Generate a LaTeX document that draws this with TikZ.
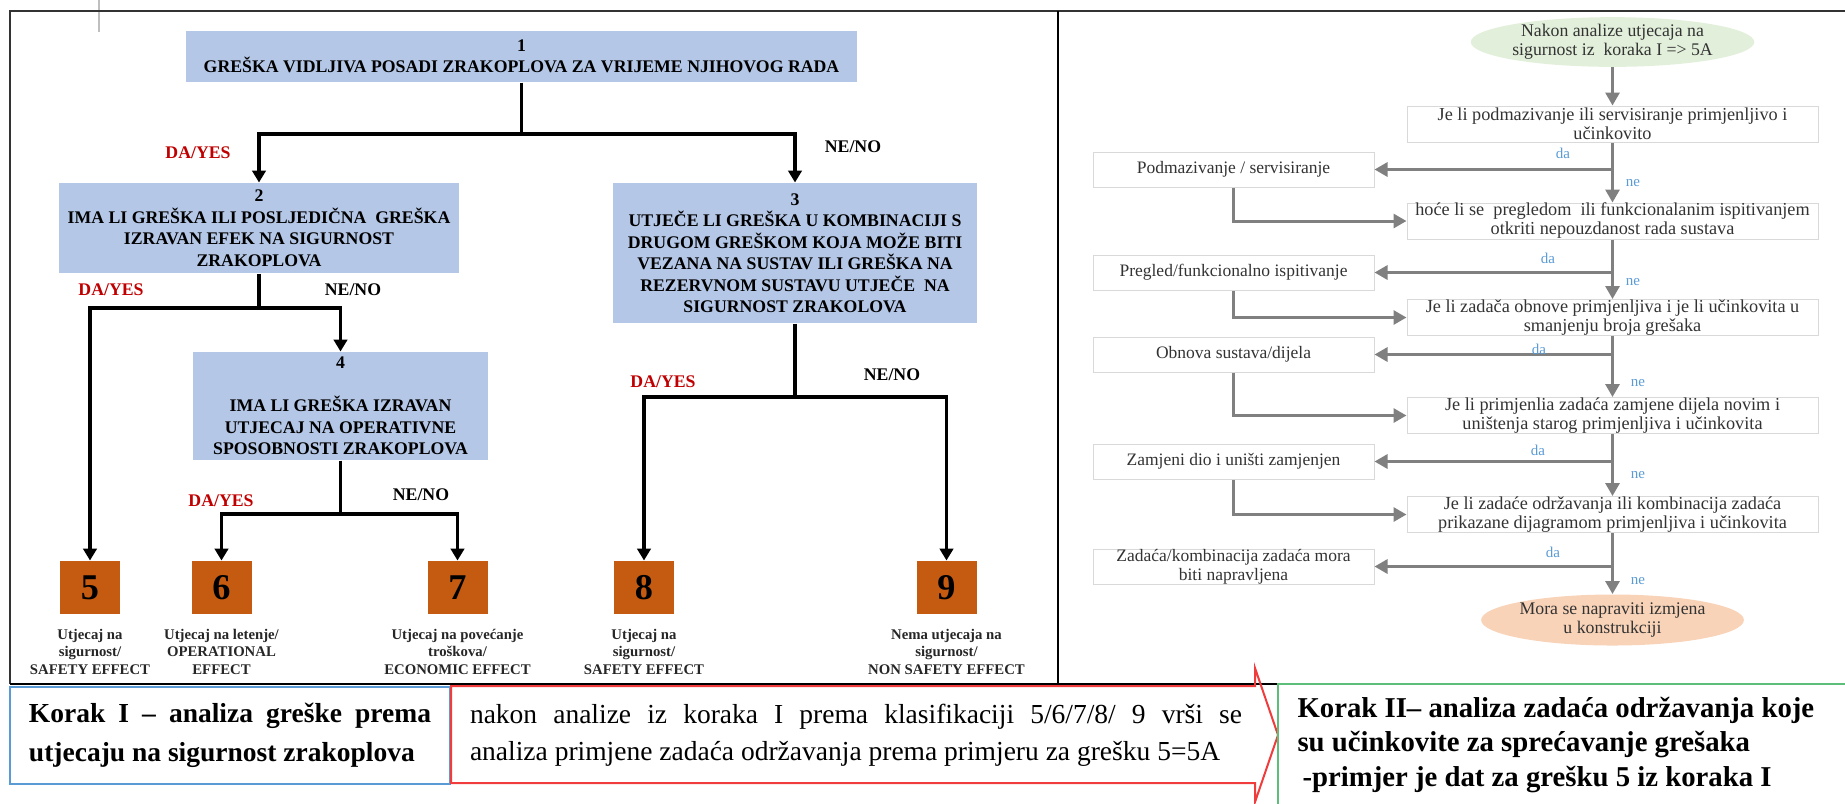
\documentclass[tikz,border=0pt]{standalone}
\usepackage{fontspec}
\setmainfont{Liberation Serif}
\usetikzlibrary{arrows.meta,positioning,shapes.geometric}

\definecolor{boxblue}{HTML}{B4C7E7}
\definecolor{effectorange}{HTML}{C55A11}
\definecolor{yesred}{HTML}{C00000}
\definecolor{flowgray}{HTML}{808080}
\definecolor{boxgray}{HTML}{D9D9D9}
\definecolor{textgray}{HTML}{333333}
\definecolor{answerblue}{HTML}{5B9BD5}
\definecolor{startgreen}{HTML}{E2EFDA}
\definecolor{endpeach}{HTML}{F8D3B8}
\definecolor{stepblue}{HTML}{5B9BD5}
\definecolor{stepred}{HTML}{F03C3C}
\definecolor{stepgreen}{HTML}{5DBE7A}

\begin{document}
\begin{tikzpicture}[x=0.4pt,y=-0.4pt]
  \tikzstyle{every node}=[inner sep=0pt]
  \tikzstyle{fault}=[fill=boxblue,align=center,font=\fontsize{7.1}{8.6}\selectfont\bfseries]
  \tikzstyle{effect}=[fill=effectorange,minimum width=24pt,minimum height=21.2pt,font=\fontsize{14.5}{16}\selectfont\bfseries]
  \tikzstyle{effect label}=[align=center,font=\fontsize{5.9}{7}\selectfont\bfseries,text=black!85]
  \tikzstyle{yes}=[text=yesred,font=\fontsize{7.1}{8}\selectfont\bfseries]
  \tikzstyle{no}=[font=\fontsize{7.1}{8}\selectfont\bfseries]
  \tikzstyle{tree}=[line width=1.4pt,-{Triangle[length=4.8pt,width=5.4pt]}]
  \tikzstyle{tree line}=[line width=1.4pt]
  \tikzstyle{task}=[draw=boxgray,fill=white,align=center,text=textgray,font=\fontsize{7}{7.5}\selectfont]
  \tikzstyle{question}=[task,minimum width=164.4pt,minimum height=14.4pt,font=\fontsize{7.3}{7.6}\selectfont]
  \tikzstyle{action}=[task,minimum width=112.4pt,minimum height=14pt]
  \tikzstyle{flow}=[draw=flowgray,line width=1.2pt,-{Triangle[length=5.2pt,width=5.6pt]}]
  \tikzstyle{answer}=[text=answerblue,font=\fontsize{6}{7}\selectfont]

 \useasboundingbox (0,0) rectangle (1845,803);
 \draw[black!25,line width=0.6pt] (99,0) -- (99,32);
 \draw[black!80,line width=0.8pt] (10,684) -- (10,11) -- (1845,11);
 \draw[line width=0.8pt] (1058,11) -- (1058,684);
 \draw[line width=0.8pt] (10,684) -- (1278,684);

 \node[fault,minimum width=268.4pt,minimum height=20.4pt] (1) at (521.5,56.5) {1\\GREŠKA VIDLJIVA POSADI ZRAKOPLOVA ZA VRIJEME NJIHOVOG RADA};
 \node[fault,minimum width=160pt,minimum height=36pt] (2) at (259,228) {2\\IMA LI GREŠKA ILI POSLJEDIČNA\ \ GREŠKA\\IZRAVAN EFEK NA SIGURNOST\\ZRAKOPLOVA};
 \node[fault,minimum width=145.6pt,minimum height=56pt] (3) at (795,253) {3\\UTJEČE LI GREŠKA U KOMBINACIJI S\\DRUGOM GREŠKOM KOJA MOŽE BITI\\VEZANA NA SUSTAV ILI GREŠKA NA\\REZERVNOM SUSTAVU UTJEČE\ \ NA\\SIGURNOST ZRAKOLOVA};
 \node[fault,minimum width=118pt,minimum height=43.2pt] (4) at (340.5,406) {4\\[8.6pt]IMA LI GREŠKA IZRAVAN\\UTJECAJ NA OPERATIVNE\\SPOSOBNOSTI ZRAKOPLOVA};
 \node[effect] (5) at (90,587.5) {5};
 \node[effect] (6) at (221.5,587.5) {6};
 \node[effect] (7) at (457.5,587.5) {7};
 \node[effect] (8) at (644,587.5) {8};
 \node[effect] (9) at (946.5,587.5) {9};
 \node[effect label,below=5.6pt of 5] (5l) {Utjecaj na\\sigurnost/\\SAFETY EFFECT};
 \node[effect label,below=5.6pt of 6] (6l) {Utjecaj na letenje/\\OPERATIONAL\\EFFECT};
 \node[effect label,below=5.6pt of 7] (7l) {Utjecaj na povećanje\\troškova/\\ECONOMIC EFFECT};
 \node[effect label,below=5.6pt of 8] (8l) {Utjecaj na\\sigurnost/\\SAFETY EFFECT};
 \node[effect label,below=5.6pt of 9] (9l) {Nema utjecaja na\\sigurnost/\\NON SAFETY EFFECT};

 \coordinate (j1) at (521.5,134);
 \coordinate (j2) at (259,308);
 \coordinate (j3) at (340.5,514);
 \coordinate (j4) at (795,397);
 \draw[tree line] (1) -- (j1);
 \draw[tree] (j1) -| (2);
 \draw[tree] (j1) -| (3);
 \draw[tree line] (2) -- (j2);
 \draw[tree] (j2) -| (5);
 \draw[tree] (j2) -| (4);
 \draw[tree line] (4) -- (j3);
 \draw[tree] (j3) -| (6);
 \draw[tree] (j3) -| (7);
 \draw[tree line] (3) -- (j4);
 \draw[tree] (j4) -| (8);
 \draw[tree] (j4) -| (9);

 \node[yes] (y1) at (198,153) {DA/YES};
 \node[no] (n1) at (853,147) {NE/NO};
 \node[yes] (y2) at (111,290) {DA/YES};
 \node[no] (n2) at (353,290) {NE/NO};
 \node[yes] (y3) at (221,501) {DA/YES};
 \node[no] (n3) at (421,495) {NE/NO};
 \node[yes] (y4) at (663,382) {DA/YES};
 \node[no] (n4) at (892,375) {NE/NO};

 \node[ellipse,fill=startgreen,align=center,text=textgray,font=\fontsize{7.1}{7.6}\selectfont,minimum width=112.4pt,minimum height=18pt] (s) at (1612.5,42) {Nakon analize utjecaja na\\sigurnost iz\ \ koraka I => 5A};
 \node[question] (q1) at (1612.5,124) {Je li podmazivanje ili servisiranje primjenljivo i\\učinkovito};
 \node[question] (q2) at (1612.5,221) {hoće li se\ \ pregledom\ \ ili funkcionalanim ispitivanjem\\otkriti nepouzdanost rada sustava};
 \node[question] (q3) at (1612.5,317.5) {Je li zadača obnove primjenljiva i je li učinkovita u\\smanjenju broja grešaka};
 \node[question] (q4) at (1612.5,415.5) {Je li primjenlia zadaća zamjene dijela novim i\\uništenja starog primjenljiva i učinkovita};
 \node[question] (q5) at (1612.5,514.5) {Je li zadaće održavanja ili kombinacija zadaća\\prikazane dijagramom primjenljiva i učinkovita};
 \node[action] (a1) at (1233.5,169.5) {Podmazivanje / servisiranje};
 \node[action] (a2) at (1233.5,272.5) {Pregled/funkcionalno ispitivanje};
 \node[action] (a3) at (1233.5,354.5) {Obnova sustava/dijela};
 \node[action] (a4) at (1233.5,461.5) {Zamjeni dio i uništi zamjenjen};
 \node[action] (a5) at (1233.5,566.5) {Zadaća/kombinacija zadaća mora\\biti napravljena};
 \node[ellipse,fill=endpeach,align=center,text=textgray,font=\fontsize{7.1}{7.6}\selectfont,minimum width=95.6pt,minimum height=20.4pt] (e) at (1612.5,620) {Mora se napraviti izmjena\\u konstrukciji};

 \draw[flow] (s) -- (q1);
 \draw[flow] (q1) -- (q2);
 \draw[flow] (q2) -- (q3);
 \draw[flow] (q3) -- (q4);
 \draw[flow] (q4) -- (q5);
 \draw[flow] (q5) -- (e);
 \draw[flow] (q1.south |- a1.east) -- (a1);
 \draw[flow] (q2.south |- a2.east) -- (a2);
 \draw[flow] (q3.south |- a3.east) -- (a3);
 \draw[flow] (q4.south |- a4.east) -- (a4);
 \draw[flow] (q5.south |- a5.east) -- (a5);
 \draw[flow] (a1) |- (q2);
 \draw[flow] (a2) |- (q3);
 \draw[flow] (a3) |- (q4);
 \draw[flow] (a4) |- (q5);

 \node[answer] (da1) at (1563,153) {da};
 \node[answer] (ne1) at (1633,183) {ne};
 \node[answer] (da2) at (1548,258) {da};
 \node[answer] (ne2) at (1633,282) {ne};
 \node[answer] (da3) at (1539,349) {da};
 \node[answer] (ne3) at (1638,383) {ne};
 \node[answer] (da4) at (1538,450) {da};
 \node[answer] (ne4) at (1638,475) {ne};
 \node[answer] (da5) at (1553,552) {da};
 \node[answer] (ne5) at (1638,581) {ne};

 \node[draw=stepblue,line width=0.8pt,minimum width=176pt,minimum height=38.8pt,text width=160.8pt,align=justify,font=\fontsize{11}{15.6}\selectfont\bfseries] (k1) at (230,735) {Korak I – analiza greške prema\linebreak utjecaju na sigurnost zrakoplova};
 \draw[stepred,line width=0.8pt] (451,686) -- (1255,686) -- (1255,668) -- (1278,735) -- (1255,802) -- (1255,783) -- (451,783) -- cycle;
 \node[text width=308.8pt,align=justify,font=\fontsize{11}{14.8}\selectfont] (k2) at (856,735.5) {nakon analize iz koraka I prema klasifikaciji 5/6/7/8/ 9 vrši se\linebreak analiza primjene zadaća održavanja prema primjeru za grešku 5=5A};
 \draw[stepgreen,line width=0.8pt] (1850,683.5) -- (1278,683.5) -- (1278,810);
 \node[anchor=west,align=left,font=\fontsize{11.5}{13.8}\selectfont\bfseries] (k3) at (1297,745) {Korak II– analiza zadaća održavanja koje\\su učinkovite za sprećavanje grešaka\\\hspace{2pt}-primjer je dat za grešku 5 iz koraka I};
\end{tikzpicture}
\end{document}
